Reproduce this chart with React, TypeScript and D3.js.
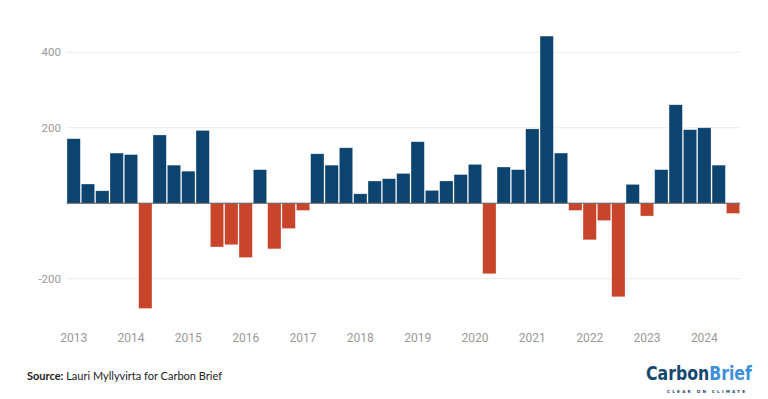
import * as d3 from "d3";

const years = ["2013", "2014", "2015", "2016", "2017", "2018", "2019", "2020", "2021", "2022", "2023", "2024"];
const quarters = ["Q1", "Q2", "Q3", "Q4"];
const values = [
  171, 51, 33, 133,
  129, -279, 181, 101,
  85, 193, -116, -110,
  -144, 89, -121, -67,
  -19, 131, 101, 147,
  25, 59, 65, 79,
  163, 34, 59, 76,
  103, -187, 96, 89,
  197, 443, 133, -19,
  -97, -46, -248, 50,
  -34, 89, 261, 195,
  200, 101, -27,
];
const yTicks = [-200, 200, 400];

const periods = values.map((_, i) => `${years[Math.floor(i / 4)]} ${quarters[i % 4]}`);

const width = 768;
const height = 399;
const left = 66.7;
const right = 740;

export default function App() {
  const x = d3.scaleBand<string>().domain(periods).range([left, right]).paddingInner(0.07).paddingOuter(0.02);
  const y = d3.scaleLinear().domain([-200, 400]).range([278.7, 52.3]);

  return (
    <svg width={width} height={height} style={{ position: "absolute", left: 0, top: 0 }}>
      <rect width={width} height={height} fill="#fff" />
      {yTicks.map((t) => (
        <g key={t}>
          <line x1={left} x2={right} y1={y(t)} y2={y(t)} stroke="#ebebeb" strokeWidth={1} />
          <text x={61} y={y(t)} dy="0.35em" textAnchor="end" fontFamily="Roboto" fontSize={11.5} fill="#999">
            {t}
          </text>
        </g>
      ))}
      {values.map((v, i) => (
        <rect
          key={i}
          x={x(periods[i])}
          y={v >= 0 ? y(v) : y(0)}
          width={x.bandwidth()}
          height={Math.abs(y(v) - y(0))}
          fill={v >= 0 ? "#0d446f" : "#c8452c"}
          stroke="#fff"
          strokeOpacity={0.5}
          strokeWidth={0.6}
        />
      ))}
      <line x1={left} x2={right} y1={y(0)} y2={y(0)} stroke="#555" strokeWidth={1} />
      {years.map((yr) => (
        <text
          key={yr}
          x={(x(`${yr} Q1`) ?? 0) + x.bandwidth() / 2}
          y={338}
          dy="0.35em"
          textAnchor="middle"
          fontFamily="Roboto"
          fontSize={12}
          fill="#999"
        >
          {yr}
        </text>
      ))}
      <text x={27} y={376} dy="0.35em" fontFamily="Lato" fontSize={11} fill="#222">
        <tspan fontWeight="bold">Source:</tspan> Lauri Myllyvirta for Carbon Brief
      </text>
      {/* logo */}
      <g transform="translate(646,380) scale(1,1.15)">
        <text x={0} y={0} fontFamily="DejaVu Sans Condensed" fontWeight="bold" fontSize={17.5}>
          <tspan fill="#15466f">Carbon</tspan>
          <tspan fill="#3d8fd8">Brief</tspan>
        </text>
      </g>
      <text x={667} y={393} fontFamily="DejaVu Sans" fontWeight="bold" fontSize={4.2} fill="#15466f" textLength={78} lengthAdjust="spacing">
        CLEAR ON CLIMATE
      </text>
    </svg>
  );
}
